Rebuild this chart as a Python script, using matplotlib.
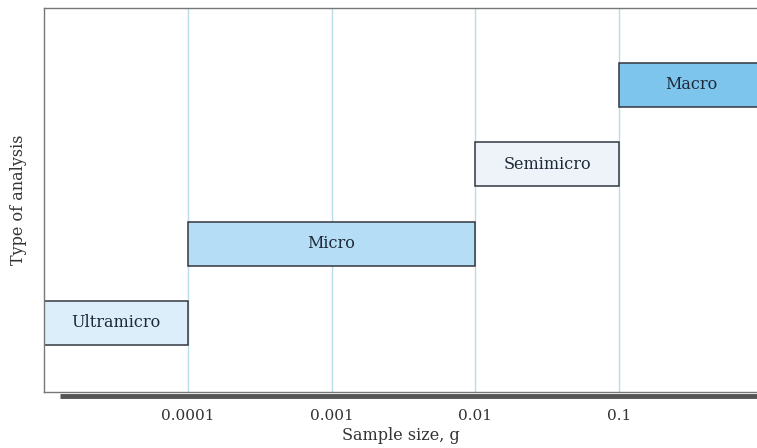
import matplotlib
matplotlib.use("Agg")
import matplotlib.pyplot as plt
import numpy as np

categories = ["Ultramicro", "Micro", "Semimicro", "Macro"]
range_start = [0.00001, 0.0001, 0.01, 0.1]
range_end = [0.0001, 0.01, 0.1, 1.0]
bar_colors = ["#DDEEFB", "#B5DDF5", "#EEF3F9", "#7DC5EC"]
tick_values = [0.0001, 0.001, 0.01, 0.1]
tick_labels = ["0.0001", "0.001", "0.01", "0.1"]

plt.rcParams['font.family'] = ['DejaVu Serif']

fig = plt.figure(figsize=(7.57, 4.48), dpi=100)
ax = fig.add_axes([44/757, 1 - 392/448, (757 - 44)/757, (392 - 8)/448])

ax.set_xscale('log')
ax.set_xlim(0.00001, 10 ** (-1 + 138/144))
ax.set_ylim(-0.87, 3.97)

for t in tick_values:
    ax.axvline(t, color='#B8DCE8', lw=1, zorder=0)

for i, (cat, s, e, c) in enumerate(zip(categories, range_start, range_end, bar_colors)):
    ax.barh(i, e - s, left=s, height=0.555, color=c, edgecolor='#333840', lw=1.1, zorder=2)
    ax.text(np.sqrt(s * e), i, cat, ha='center', va='center', fontsize=11.5,
            color='#1e2a3a', zorder=3)

ax.set_xticks(tick_values)
ax.set_xticklabels(tick_labels, fontsize=11, color='#333333')
ax.xaxis.set_minor_locator(matplotlib.ticker.NullLocator())
ax.tick_params(axis='x', length=0, pad=12)
ax.set_yticks([])

for sp in ['left', 'top', 'bottom']:
    ax.spines[sp].set_color('#777777')
    ax.spines[sp].set_linewidth(1)
ax.spines['right'].set_visible(False)

ax.plot([16/713, 1], [-0.011, -0.011], transform=ax.transAxes, clip_on=False,
        color='#555555', lw=3.5, solid_capstyle='butt')

ax.set_xlabel("Sample size, g", fontsize=11.5, color='#333333', labelpad=3)
ax.set_ylabel("Type of analysis", fontsize=11.5, color='#333333', labelpad=12)

fig.savefig("out.png", dpi=100)
